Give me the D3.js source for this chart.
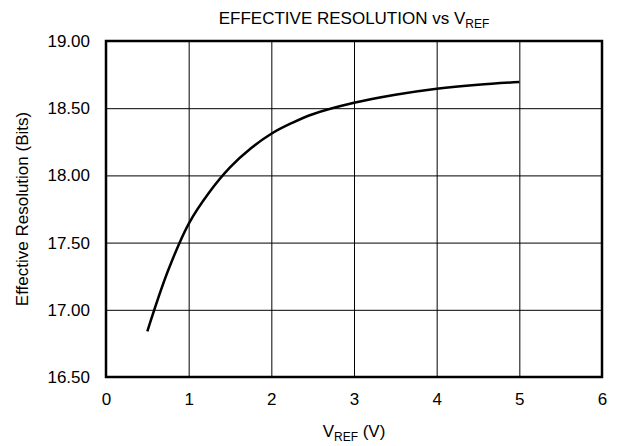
<!DOCTYPE html>
<html>
<head>
<meta charset="utf-8">
<script src="https://cdn.jsdelivr.net/npm/d3@7"></script>
<style>
  body { margin: 0; background: #fff; }
  text { font-family: "Liberation Sans", Arial, sans-serif; fill: #000; }
</style>
</head>
<body>
<div id="chart"></div>
<script>
// reference voltage (V) and effective resolution (bits)
const vref = [0.5, 0.75, 1.0, 1.25, 1.5, 1.75, 2.0, 2.25, 2.5, 3.0, 3.5, 4.0, 4.5, 5.0];
const resolution = [16.84, 17.29, 17.64, 17.875, 18.06, 18.20, 18.31, 18.39, 18.455, 18.54, 18.60, 18.645, 18.675, 18.695];
const xTicks = [0, 1, 2, 3, 4, 5, 6];
const yTicks = [16.5, 17.0, 17.5, 18.0, 18.5, 19.0];

const W = 621, H = 446;
const margin = {top: 41, right: 19, bottom: 69, left: 106};
const width = W - margin.left - margin.right;
const height = H - margin.top - margin.bottom;

const svg = d3.select("#chart").append("svg")
    .attr("width", W)
    .attr("height", H);

const g = svg.append("g")
    .attr("transform", `translate(${margin.left},${margin.top})`);

const x = d3.scaleLinear().domain([0, 6]).range([0, width]);
const y = d3.scaleLinear().domain([16.5, 19]).range([height, 0]);

// grid
g.append("g")
    .call(d3.axisBottom(x).tickValues(xTicks).tickSize(height).tickFormat(""))
    .call(a => a.select(".domain").remove())
    .selectAll("line").attr("stroke", "#000").attr("stroke-width", 1);

g.append("g")
    .call(d3.axisRight(y).tickValues(yTicks).tickSize(width).tickFormat(""))
    .call(a => a.select(".domain").remove())
    .selectAll("line").attr("stroke", "#000").attr("stroke-width", 1);

// tick labels
g.append("g")
    .attr("transform", `translate(0,${height})`)
    .call(d3.axisBottom(x).tickValues(xTicks).tickSize(0).tickPadding(16).tickFormat(d3.format("d")))
    .call(a => a.select(".domain").remove())
    .selectAll("text")
    .style("font-size", "17px")
    .style("font-family", "Liberation Sans, Arial, sans-serif");

g.append("g")
    .call(d3.axisLeft(y).tickValues(yTicks).tickSize(0).tickPadding(16).tickFormat(d3.format(".2f")))
    .call(a => a.select(".domain").remove())
    .selectAll("text")
    .style("font-size", "17px")
    .style("font-family", "Liberation Sans, Arial, sans-serif");

// frame
g.append("rect")
    .attr("width", width)
    .attr("height", height)
    .attr("fill", "none")
    .attr("stroke", "#000")
    .attr("stroke-width", 2.5);

// curve
const line = d3.line()
    .x((d, i) => x(vref[i]))
    .y(d => y(d))
    .curve(d3.curveCatmullRom.alpha(0.5));

g.append("path")
    .datum(resolution)
    .attr("fill", "none")
    .attr("stroke", "#000")
    .attr("stroke-width", 2.5)
    .attr("d", line);

// title
const title = svg.append("text")
    .attr("x", margin.left + width / 2)
    .attr("y", 24)
    .attr("text-anchor", "middle")
    .style("font-size", "17px");
title.append("tspan").text("EFFECTIVE RESOLUTION vs V");
title.append("tspan").attr("dy", 4).style("font-size", "12px").text("REF");

// x label
const xl = svg.append("text")
    .attr("x", margin.left + width / 2)
    .attr("y", 437)
    .attr("text-anchor", "middle")
    .style("font-size", "17px");
xl.append("tspan").text("V");
xl.append("tspan").attr("dy", 4).style("font-size", "12px").text("REF");
xl.append("tspan").attr("dy", -4).text(" (V)");

// y label
svg.append("text")
    .attr("transform", `translate(28,${margin.top + height / 2}) rotate(-90)`)
    .attr("text-anchor", "middle")
    .style("font-size", "17px")
    .text("Effective Resolution (Bits)");
</script>
</body>
</html>
